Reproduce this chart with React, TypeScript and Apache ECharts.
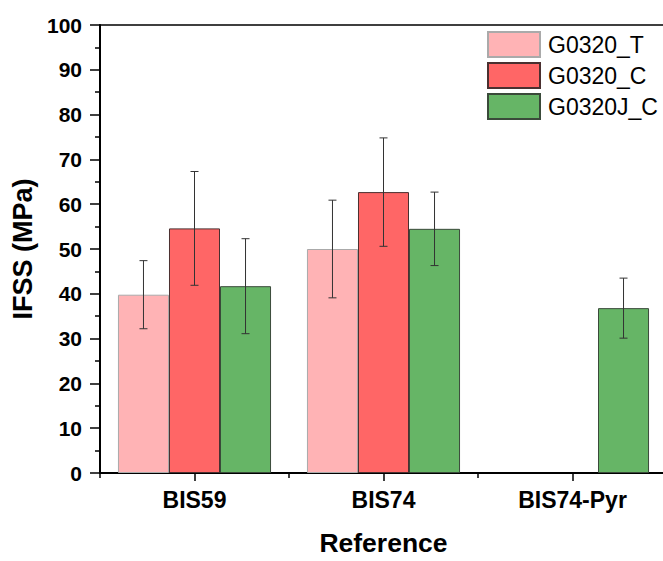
import React, { useEffect, useRef } from "react";
import * as echarts from "echarts";

const categories = ["BIS59", "BIS74", "BIS74-Pyr"];
const seriesNames = ["G0320_T", "G0320_C", "G0320J_C"];
const valuesT = [39.8, 50.0, null];
const valuesC = [54.6, 62.7, null];
const valuesJC = [41.7, 54.5, 36.8];
const errT = [7.6, 10.9, null];
const errC = [12.7, 12.1, null];
const errJC = [10.6, 8.2, 6.7];
const yTicks = { min: 0, max: 100, interval: 10 };

const colors = ["#FFB3B5", "#FF6666", "#66B566"];
const borders = ["#AAAAAA", "#4A3030", "#3A4A3A"];
const FONT = "'Liberation Sans', Arial, sans-serif";

export default function App() {
  const ref = useRef<HTMLDivElement>(null);
  useEffect(() => {
    if (!ref.current) return;
    const chart = echarts.init(ref.current, null, { renderer: "svg" });
    const values = [valuesT, valuesC, valuesJC];
    const errs = [errT, errC, errJC];
    const gapRatio = 0.19;

    const barSeries = seriesNames.map((name, i) => ({
      name,
      type: "bar",
      xAxisIndex: 0,
      data: values[i].map((v) => (v == null ? "-" : v)),
      barGap: "0%",
      barCategoryGap: "19%",
      itemStyle: { color: colors[i], borderColor: borders[i], borderWidth: 1 },
      z: 2,
    }));

    const errSeries = seriesNames.map((name, i) => ({
      name: name + "_err",
      type: "custom",
      xAxisIndex: 0,
      z: 5,
      data: values[i]
        .map((v, k) => (v == null ? null : [k, v, errs[i][k]]))
        .filter((d) => d != null),
      renderItem: (params: any, api: any) => {
        const k = api.value(0);
        const v = api.value(1);
        const e = api.value(2);
        const band = api.size([1, 0])[0];
        const bw = (band * (1 - gapRatio)) / 3;
        const c = api.coord([k, v]);
        const x = c[0] + (i - 1) * bw;
        const yTop = api.coord([k, v + e])[1];
        const yBot = api.coord([k, v - e])[1];
        const cap = 4;
        const style = { stroke: "#333", lineWidth: 1 };
        return {
          type: "group",
          children: [
            { type: "line", shape: { x1: x, y1: yTop, x2: x, y2: yBot }, style },
            { type: "line", shape: { x1: x - cap, y1: yTop, x2: x + cap, y2: yTop }, style },
            { type: "line", shape: { x1: x - cap, y1: yBot, x2: x + cap, y2: yBot }, style },
          ],
        };
      },
    }));

    chart.setOption({
      animation: false,
      backgroundColor: "#fff",
      grid: {
        left: 100,
        right: 13,
        top: 25,
        bottom: 79,
        show: true,
        borderColor: "#000",
        borderWidth: 1.5,
      },
      legend: {
        data: seriesNames,
        orient: "vertical",
        left: 482,
        top: 26,
        itemWidth: 52,
        itemHeight: 25,
        itemGap: 4,
        icon: "rect",
        textStyle: { fontSize: 23, color: "#000", fontFamily: FONT, padding: [0, 0, 0, 3] },
      },
      xAxis: [
        {
          type: "category",
          data: categories,
          position: "bottom",
          name: "Reference",
          nameLocation: "middle",
          nameGap: 56,
          nameTextStyle: { fontSize: 26.5, fontWeight: "bold", color: "#000", fontFamily: FONT },
          axisLine: { show: true, lineStyle: { color: "#000", width: 2 } },
          axisTick: { show: true, alignWithLabel: true, length: 8, lineStyle: { color: "#000", width: 1.5 } },
          axisLabel: { fontSize: 23, fontWeight: "bold", color: "#000", margin: 15, fontFamily: FONT },
          splitLine: { show: false },
        },
        {
          type: "category",
          data: categories,
          position: "bottom",
          axisLine: { show: false },
          axisTick: { show: true, length: 5, lineStyle: { color: "#000", width: 1.5 } },
          axisLabel: { show: false },
          splitLine: { show: false },
        },
      ],
      yAxis: {
        type: "value",
        min: yTicks.min,
        max: yTicks.max,
        interval: yTicks.interval,
        name: "IFSS (MPa)",
        nameLocation: "middle",
        nameGap: 60,
        nameTextStyle: { fontSize: 27, fontWeight: "bold", color: "#000", fontFamily: FONT },
        axisLine: { show: true, lineStyle: { color: "#000", width: 2 } },
        axisTick: { show: true, length: 10, lineStyle: { color: "#000", width: 1.5 } },
        minorTick: { show: true, splitNumber: 2, length: 5, lineStyle: { color: "#000", width: 1.5 } },
        axisLabel: { fontSize: 21, fontWeight: "bold", color: "#000", margin: 18, fontFamily: FONT },
        splitLine: { show: false },
        minorSplitLine: { show: false },
      },
      series: [...barSeries, ...errSeries],
    });
    return () => chart.dispose();
  }, []);

  return (
    <div style={{ position: "fixed", left: 0, top: 0, width: 663, height: 561, overflow: "hidden", background: "#fff" }}>
      <div ref={ref} style={{ width: 680, height: 561 }} />
    </div>
  );
}
